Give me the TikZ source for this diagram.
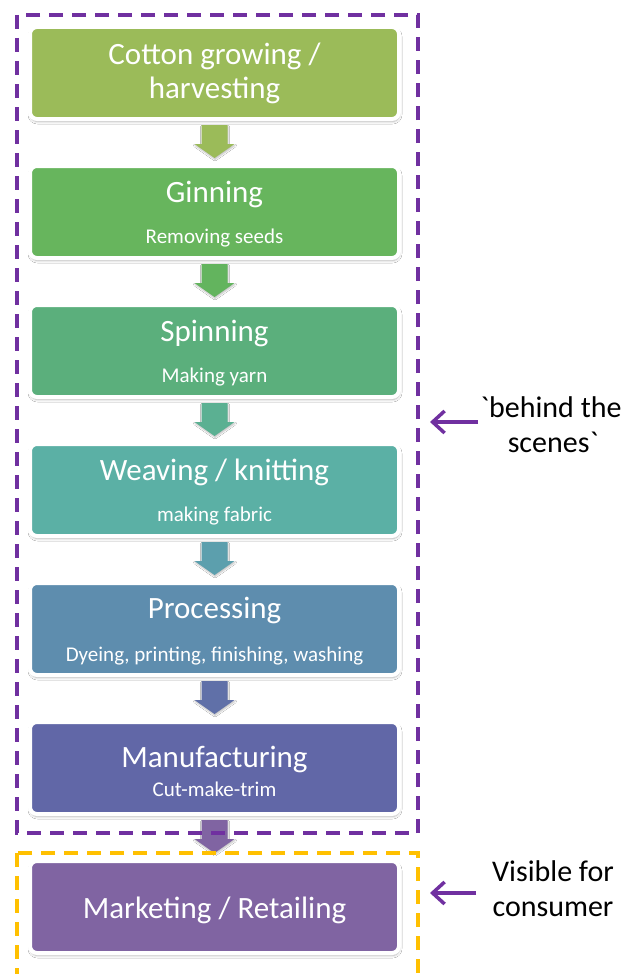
\documentclass[tikz,border=0pt]{standalone}
\usepackage{fontspec}
\setmainfont{Carlito}
\newfontfamily\lblfont{Carlito}
\usetikzlibrary{arrows.meta,calc,shadows.blur}

\definecolor{cA}{HTML}{9BBB59}
\definecolor{cB}{HTML}{67B55D}
\definecolor{cC}{HTML}{5BAF7C}
\definecolor{cD}{HTML}{5BB0A5}
\definecolor{cE}{HTML}{5E8DAE}
\definecolor{cF}{HTML}{6167A7}
\definecolor{cG}{HTML}{8064A2}
\definecolor{aA}{HTML}{9BBB59}
\definecolor{aB}{HTML}{63B45E}
\definecolor{aC}{HTML}{5BB092}
\definecolor{aD}{HTML}{5C9FAD}
\definecolor{aE}{HTML}{6070A8}
\definecolor{aF}{HTML}{8064A2}
\definecolor{framepurple}{HTML}{7030A0}
\definecolor{frameyellow}{HTML}{FFC000}

\tikzset{
  stepbox/.style={rectangle, rounded corners=7pt, draw=white, line width=4pt,
    minimum width=369pt, minimum height=92pt, inner sep=0pt,
    blur shadow={shadow xshift=0.5pt, shadow yshift=-2.5pt, shadow opacity=30,
      shadow blur steps=6, shadow blur radius=2.5pt}},
  title/.style={text=white, font=\fontsize{31}{34}\selectfont, anchor=base, inner sep=0pt},
  subtitle/.style={text=white, font=\fontsize{21}{25}\selectfont, anchor=base, inner sep=0pt},
  sidelabel/.style={text=black, font=\lblfont\fontsize{30}{35}\selectfont, anchor=base, inner sep=0pt},
  frame/.style={line width=3.5pt, dash pattern=on 14pt off 9pt},
  pointer/.style={draw=framepurple, line width=3.5pt, -{Straight Barb[length=12pt,width=22pt]}},
}

% block arrow from the bottom of one step to the top of the next
\newcommand\flowarrow[3]{%
  \fill[#3, blur shadow={shadow xshift=0.5pt, shadow yshift=-1.5pt, shadow opacity=25,
      shadow blur steps=4, shadow blur radius=1.5pt}]
    ($(#1.south)+(-13,4)$) -- ($(#1.south)+(13,4)$) -- ($(#1.south)+(13,23)$)
    -- ($(#1.south)+(20,23)$) -- ($(#2.north)+(0,-6)$) -- ($(#1.south)+(-20,23)$)
    -- ($(#1.south)+(-13,23)$) -- cycle;}

\begin{document}
\begin{tikzpicture}[x=1pt, y=-1pt]
  \useasboundingbox (0,0) rectangle (629,974);
  \fill[white] (0,0) rectangle (629,974);

  % process steps
  \node[stepbox, fill=cA] (b1) at (214.5,73)  {};
  \node[stepbox, fill=cB] (b2) at (214.5,212) {};
  \node[stepbox, fill=cC] (b3) at (214.5,351) {};
  \node[stepbox, fill=cD] (b4) at (214.5,490) {};
  \node[stepbox, fill=cE] (b5) at (214.5,629) {};
  \node[stepbox, fill=cF] (b6) at (214.5,768) {};
  \node[stepbox, fill=cG] (b7) at (214.5,907) {};

  \node[title] (t1a) at ($(b1.center)+(0,-8)$) {Cotton growing /};
  \node[title] (t1b) at ($(b1.center)+(0,25)$) {harvesting};

  \node[title] (t2) at ($(b2.center)+(0,-10)$) {Ginning};
  \node[subtitle] (s2) at ($(b2.center)+(0,31)$) {Removing seeds};

  \node[title] (t3) at ($(b3.center)+(0,-10)$) {Spinning};
  \node[subtitle] (s3) at ($(b3.center)+(0,31)$) {Making yarn};

  \node[title] (t4) at ($(b4.center)+(0,-10)$) {Weaving / knitting};
  \node[subtitle] (s4) at ($(b4.center)+(0,31)$) {making fabric};

  \node[title] (t5) at ($(b5.center)+(0,-11)$) {Processing};
  \node[subtitle] (s5) at ($(b5.center)+(0,32)$) {Dyeing, printing, finishing, washing};

  \node[title] (t6) at ($(b6.center)+(0,-1)$) {Manufacturing};
  \node[subtitle] (s6) at ($(b6.center)+(0,28)$) {Cut-make-trim};

  \node[title] (t7) at ($(b7.center)+(0,11)$) {Marketing / Retailing};

  % arrows between steps
  \flowarrow{b1}{b2}{aA}
  \flowarrow{b2}{b3}{aB}
  \flowarrow{b3}{b4}{aC}
  \flowarrow{b4}{b5}{aD}
  \flowarrow{b5}{b6}{aE}
  \flowarrow{b6}{b7}{aF}

  % grouping frames
  \draw[frame, framepurple] (17,15) rectangle (418,833);
  \draw[frame, frameyellow] (17,853) rectangle (418,1000);

  % side labels
  \node[sidelabel] (l1a) at (551,417) {\symbol{96}behind the};
  \node[sidelabel] (l1b) at (553,452) {scenes\symbol{96}};
  \node[sidelabel] (l2a) at (553,881) {Visible for};
  \node[sidelabel] (l2b) at (553,916) {consumer};

  \coordinate (p1s) at (478,422);
  \coordinate (p1e) at (430,422);
  \coordinate (p2s) at (476,893);
  \coordinate (p2e) at (430,893);
  \draw[pointer] (p1s) -- (p1e);
  \draw[pointer] (p2s) -- (p2e);
\end{tikzpicture}
\end{document}
